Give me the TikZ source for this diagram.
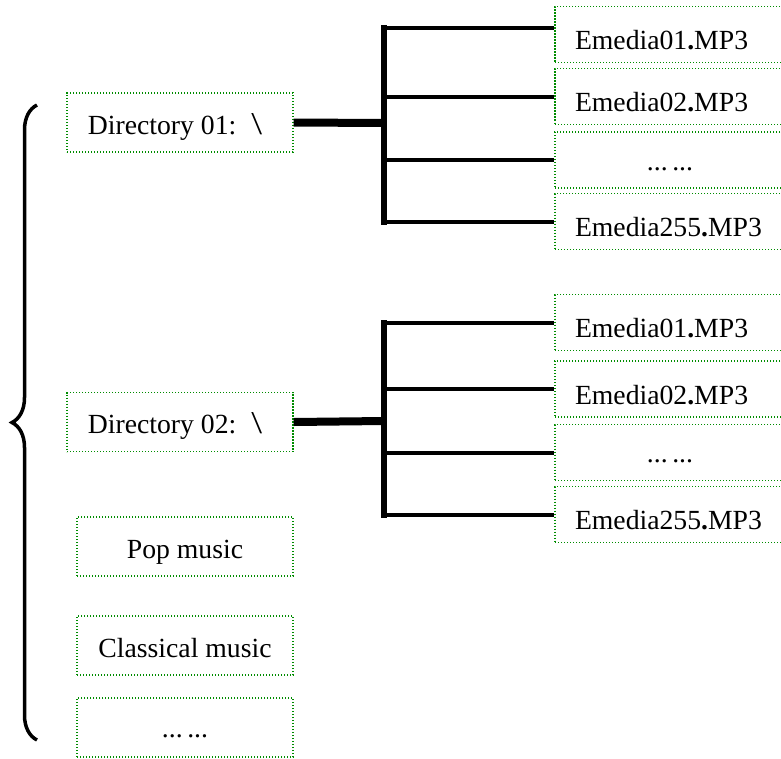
\documentclass[tikz,border=0pt]{standalone}
\usepackage{fontspec}
\setmainfont{Liberation Serif}
\usepackage{graphicx}
\usepackage{tikz}
\usetikzlibrary{decorations.pathreplacing}
\definecolor{boxgreen}{RGB}{0,140,0}
\newcommand{\dirsep}{\kern15pt\scalebox{1.4}[1.15]{\textbackslash}\kern10pt}

\begin{document}
\begin{tikzpicture}[
  x=1pt,y=-1pt,
  font=\fontsize{27.7}{32}\selectfont,
  box/.style={draw=boxgreen,line width=1.3pt,dash pattern=on 1.3pt off 1.7pt,inner sep=0pt},
  dirbox/.style={box,minimum width=226pt,minimum height=59pt,text height=24pt,text depth=0.6pt},
  kindbox/.style={box,minimum width=216pt,minimum height=59pt,text height=24pt,text depth=0.6pt},
  filebox/.style={box,minimum height=56pt,text width=190pt,inner xsep=20pt,align=left,text height=30.5pt,text depth=0.5pt},
  dotsrow/.style={align=center,text height=20.5pt,text depth=0.5pt},
  link/.style={line width=8pt},
  trunk/.style={line width=6pt,line cap=rect},
  branch/.style={line width=4pt},
  bracket/.style={decorate,decoration={brace,amplitude=25pt},line width=3.5pt}
]
\useasboundingbox (0,0) rectangle (781,758);
\clip (0,0) rectangle (781,758);

% left column: directories and kinds
\node[dirbox] (dirA) at (180,122.5) {Directory 01:\dirsep};
\node[dirbox] (dirB) at (180,422) {Directory 02:\dirsep};
\node[kindbox] (pop) at (185,546.5) {Pop music};
\node[kindbox] (classic) at (185,645.5) {Classical music};
\node[kindbox,dotsrow] (kinddots) at (185,727.5) {...\,...};
\draw[bracket] (37,740) -- (37,105);

% files of directory 01
\node[filebox] (fA1) at (670,34.5) {Emedia01\textbf{.}MP3};
\node[filebox] (fA2) at (670,96.5) {Emedia02\textbf{.}MP3};
\node[filebox,dotsrow] (fA3) at (670,160) {...\,...};
\node[filebox] (fA4) at (670,221.5) {Emedia255\textbf{.}MP3};
\coordinate (jA) at (383.7,123);
\draw[link] (dirA.east) -- (jA);
\draw[trunk] ([yshift=6.5pt]fA1.west -| jA) -- (fA4.west -| jA);
\draw[branch] ([yshift=6.5pt]fA1.west -| jA) -- ([yshift=6.5pt]fA1.west);
\draw[branch] (fA2.west -| jA) -- (fA2.west);
\draw[branch] (fA3.west -| jA) -- (fA3.west);
\draw[branch] (fA4.west -| jA) -- (fA4.west);

% files of directory 02
\node[filebox] (fB1) at (670,322.5) {Emedia01\textbf{.}MP3};
\node[filebox] (fB2) at (670,389) {Emedia02\textbf{.}MP3};
\node[filebox,dotsrow] (fB3) at (670,452.5) {...\,...};
\node[filebox] (fB4) at (670,514.5) {Emedia255\textbf{.}MP3};
\coordinate (jB) at (383.7,421);
\draw[link] (dirB.east) -- (jB);
\draw[trunk] (fB1.west -| jB) -- (fB4.west -| jB);
\draw[branch] (fB1.west -| jB) -- (fB1.west);
\draw[branch] (fB2.west -| jB) -- (fB2.west);
\draw[branch] (fB3.west -| jB) -- (fB3.west);
\draw[branch] (fB4.west -| jB) -- (fB4.west);
\end{tikzpicture}
\end{document}
